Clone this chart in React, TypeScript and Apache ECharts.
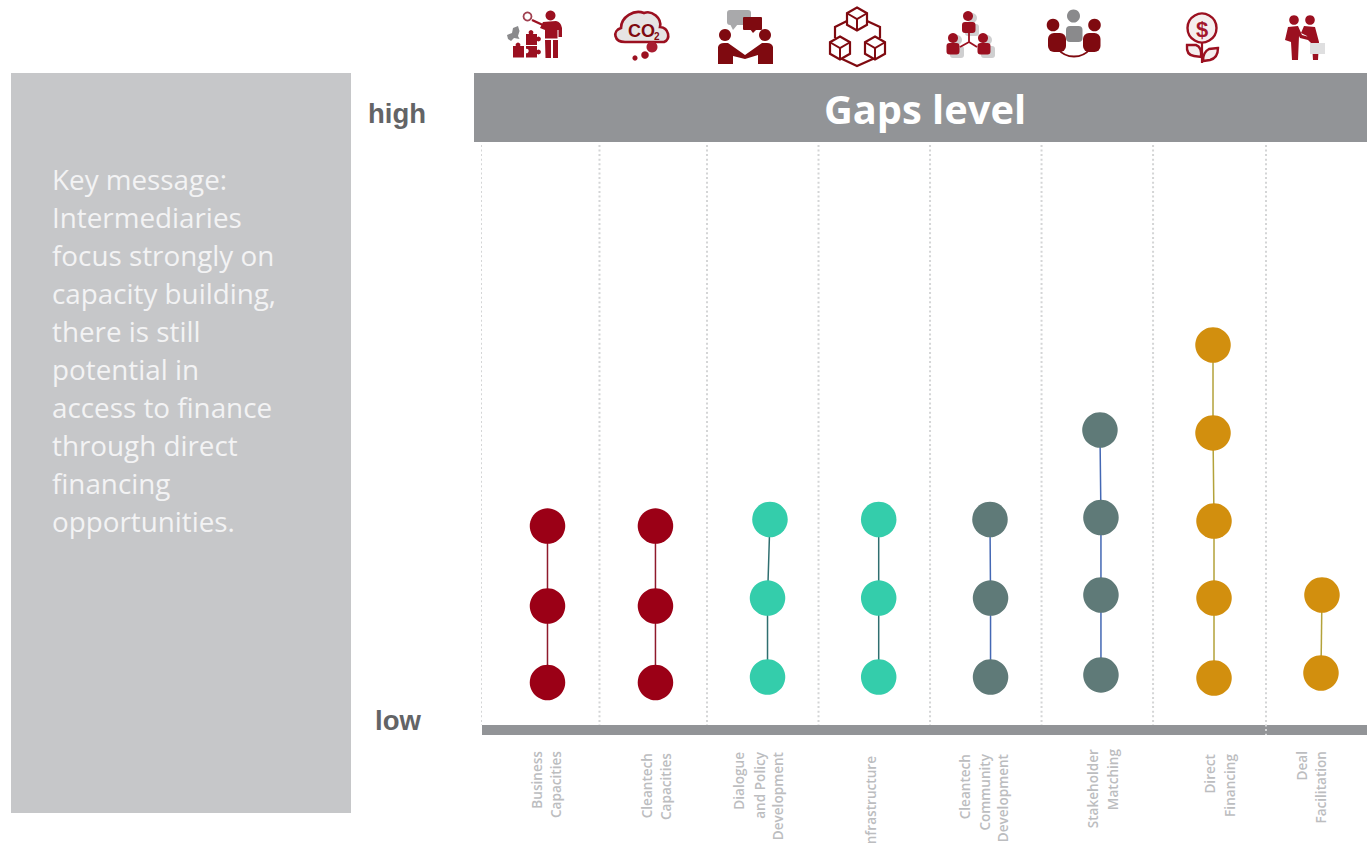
import React, { useEffect, useRef } from "react";
import * as echarts from "echarts";

// Column positions run 0..8 along the x axis, gap levels 0..10 along the y axis.
const businessX = [0.592, 0.592, 0.592];
const businessY = [3.413, 2.041, 0.729];
const cleantechX = [1.568, 1.568, 1.568];
const cleantechY = [3.413, 2.041, 0.729];
const dialogueX = [2.603, 2.581, 2.581];
const dialogueY = [3.525, 2.178, 0.823];
const infrastructureX = [3.586, 3.586, 3.586];
const infrastructureY = [3.525, 2.178, 0.823];
const communityX = [4.592, 4.597, 4.597];
const communityY = [3.525, 2.178, 0.823];
const stakeholderX = [5.586, 5.595, 5.595, 5.595];
const stakeholderY = [5.06, 3.559, 2.23, 0.858];
const directX = [6.608, 6.608, 6.617, 6.617, 6.617];
const directY = [6.518, 5.009, 3.499, 2.178, 0.806];
const dealX = [7.593, 7.584];
const dealY = [2.23, 0.892];
const separators = [-0.009, 1.062, 2.034, 3.042, 4.05, 5.058, 6.066, 7.087];

const categoryLines = [
  ["Business", "Capacities"],
  ["Cleantech", "Capacities"],
  ["Dialogue", "and Policy", "Development"],
  ["Infrastructure"],
  ["Cleantech", "Community", "Development"],
  ["Stakeholder", "Matching"],
  ["Direct", "Financing"],
  ["Deal", "Facilitation"],
];
const messageLines = [
  "Key message:",
  "Intermediaries",
  "focus strongly on",
  "capacity building,",
  "there is still",
  "potential in",
  "access to finance",
  "through direct",
  "financing",
  "opportunities.",
];

// Where each rotated category line sits under the axis.
const categoryLayout = [
  { top: 751, xs: [536, 555.5] },
  { top: 753, xs: [646, 665] },
  { top: 752, xs: [738, 759, 777] },
  { top: 756, xs: [870] },
  { top: 754, xs: [964, 984, 1002] },
  { top: 749, xs: [1092, 1112] },
  { top: 754, xs: [1209, 1229] },
  { top: 751, xs: [1301, 1320] },
];

const RED = "#9b0016";
const TEAL = "#34cdab";
const SLATE = "#5f7a78";
const AMBER = "#d28f0e";
const ICON_RED = "#9b1020";
const ICON_DARK = "#7f0a10";

const columns = [
  { name: "Business Capacities", xs: businessX, ys: businessY, dot: RED, link: "#8f1a2c" },
  { name: "Cleantech Capacities", xs: cleantechX, ys: cleantechY, dot: RED, link: "#8f1a2c" },
  { name: "Dialogue and Policy Development", xs: dialogueX, ys: dialogueY, dot: TEAL, link: "#2f6f70" },
  { name: "Infrastructure", xs: infrastructureX, ys: infrastructureY, dot: TEAL, link: "#2f6f70" },
  { name: "Cleantech Community Development", xs: communityX, ys: communityY, dot: SLATE, link: "#4468b4" },
  { name: "Stakeholder Matching", xs: stakeholderX, ys: stakeholderY, dot: SLATE, link: "#4468b4" },
  { name: "Direct Financing", xs: directX, ys: directY, dot: AMBER, link: "#b3a23a" },
  { name: "Deal Facilitation", xs: dealX, ys: dealY, dot: AMBER, link: "#b3a23a" },
];

// Outlines of the icon figures that the primitive graphic types cannot express.
const shapes: Record<string, string> = {
  coachBody:
    "M543 22 L556 21 Q561 22 562 28 L562 37 L558.5 37 L558.5 30 L557.5 30 L557.5 38.5 L545 38.5 L545 30 L540 28 Z",
  coachLegs: "M545 40 L551 40 L551 58 L545.5 58 Z M553 40 L558 40 L558 58 L553 58 Z",
  scrap: "M507 35 L512 33 L513 28 L518 26 L519.5 31 L518 36 L519.5 39 L514 38 L511 41 L508 39 Z",
  cloud:
    "M625 42 C614 42 612 31 621 28 C621 17 634 9 644 13 C652 10 662 18 660 27 C669 28 671 39 664 42 Z",
  shakeLeft: "M718 64 L718 47 Q719 43 724 43 L728 43 L745 55 L745 59 L733 56 L733 64 Z",
  shakeRight: "M773 64 L773 47 Q772 43 767 43 L762 43 L745 55 L745 59 L758 55 L758 64 Z",
  leafLeft: "M1187 45 L1196 45 Q1202 47 1201 57 L1194 56 Q1186 55 1187 45 Z",
  leafRight: "M1218 48 L1209 49 Q1203 52 1203 61 L1210 60 Q1218 58 1218 48 Z",
  dealLeft:
    "M1288 27 L1298 26 L1302 35 L1309 37 L1308 40 L1300 38 L1299 36 L1298 60 L1292 60 L1291 42 L1285 40 Z",
  dealRight:
    "M1304 26 L1315 27 L1319 42 L1318 60 L1313 60 L1312 44 L1308 40 L1307 36 L1301 33 Z",
};
Object.keys(shapes).forEach((key) =>
  echarts.graphic.registerShape(key, echarts.graphic.extendPath(shapes[key] as any, {}) as any)
);

const fillShape = (type: string, fill: string, extra: any = {}) => ({ type, x: 0, y: 0, style: { fill, ...extra } });
const dot = (cx: number, cy: number, r: number, fill: string) => ({ type: "circle", shape: { cx, cy, r }, style: { fill } });
const box = (x: number, y: number, width: number, height: number, fill: string, r = 0) => ({
  type: "rect",
  shape: { x, y, width, height, r },
  style: { fill },
});
const stroke = (points: number[][], color: string, lineWidth: number) => ({
  type: "polyline",
  shape: { points },
  style: { stroke: color, fill: "none", lineWidth },
});

// An isometric cube outline centred on (cx, cy).
const cube = (cx: number, cy: number, r: number) => {
  const h = r * 0.87;
  return [
    {
      type: "polygon",
      shape: {
        points: [
          [cx, cy - r],
          [cx + h, cy - r / 2],
          [cx + h, cy + r / 2],
          [cx, cy + r],
          [cx - h, cy + r / 2],
          [cx - h, cy - r / 2],
        ],
      },
      style: { fill: "#fff", stroke: ICON_DARK, lineWidth: 2.2 },
    },
    stroke([[cx - h, cy - r / 2], [cx, cy], [cx + h, cy - r / 2]], ICON_DARK, 2),
    stroke([[cx, cy], [cx, cy + r]], ICON_DARK, 2),
  ];
};

const iconElements: any[] = [
  // Presenter with puzzle pieces
  dot(550.5, 15.5, 5, ICON_RED),
  fillShape("coachBody", ICON_RED),
  fillShape("coachLegs", ICON_RED),
  stroke([[532, 20], [545, 26]], ICON_RED, 2.4),
  { type: "circle", shape: { cx: 527.5, cy: 16.5, r: 4 }, style: { fill: "#fff", stroke: "#a04050", lineWidth: 1.8 } },
  fillShape("scrap", "#8a8a8c"),
  box(526, 34, 11, 11, ICON_RED),
  dot(531, 32.5, 2.4, ICON_RED),
  dot(538.5, 39, 2.4, ICON_RED),
  box(513, 46, 11, 11.5, ICON_RED),
  dot(518, 45, 2.4, ICON_RED),
  box(526, 46, 11, 11.5, ICON_RED),
  dot(538.5, 52, 2.4, ICON_RED),
  dot(526.5, 51, 2.2, "#fff"),
  // CO2 cloud
  fillShape("cloud", "#e6e4e4", { stroke: ICON_RED, lineWidth: 2.6 }),
  dot(652, 47, 5.5, "#a81c30"),
  dot(645, 55, 3.8, ICON_RED),
  dot(635, 58, 2.6, ICON_RED),
  { type: "text", x: 628, y: 31, style: { text: "CO", font: "bold 18px 'Liberation Sans'", fill: "#7f0a10", verticalAlign: "middle" } },
  { type: "text", x: 654, y: 36, style: { text: "2", font: "bold 10px 'Liberation Sans'", fill: "#7f0a10", verticalAlign: "middle" } },
  // Dialogue between two people
  box(727, 10, 24, 15, "#a9a9ab", 3),
  { type: "polygon", shape: { points: [[730, 24], [738, 24], [733, 30]] }, style: { fill: "#a9a9ab" } },
  box(743, 17, 19, 13, ICON_DARK, 1),
  { type: "polygon", shape: { points: [[750, 29], [757, 29], [753, 33]] }, style: { fill: ICON_DARK } },
  dot(725, 35, 6, ICON_DARK),
  dot(765, 35, 6, ICON_DARK),
  fillShape("shakeLeft", ICON_DARK),
  fillShape("shakeRight", ICON_DARK),
  // Network of cubes
  stroke([[847, 21], [835, 27], [835, 38]], ICON_DARK, 2.2),
  stroke([[867, 21], [880, 27], [880, 38]], ICON_DARK, 2.2),
  stroke([[840, 58], [857, 66], [875, 58]], ICON_DARK, 2.2),
  ...cube(857, 19, 11.5),
  ...cube(840, 48, 11.5),
  ...cube(875, 48, 11.5),
  // Community of three
  dot(972, 18, 5, "#cfcfd0"),
  box(965, 24, 14, 12, "#cfcfd0", 3),
  dot(957, 40, 5, "#cfcfd0"),
  box(950, 46, 14, 12, "#cfcfd0", 3),
  dot(987, 40, 5, "#cfcfd0"),
  box(981, 46, 14, 12, "#cfcfd0", 3),
  stroke([[969, 32], [969, 42], [960, 47]], ICON_RED, 1.8),
  stroke([[969, 42], [977, 47]], ICON_RED, 1.8),
  dot(968, 16, 5, ICON_RED),
  box(962, 22, 13.5, 11, ICON_RED, 3),
  dot(953, 38, 5, ICON_RED),
  box(946.5, 43, 13, 11.5, ICON_RED, 3),
  dot(983, 38, 5, ICON_RED),
  box(977.5, 43, 13, 11.5, ICON_RED, 3),
  // Matching around a table
  {
    type: "bezierCurve",
    shape: { x1: 1058, y1: 49, x2: 1090, y2: 49, cpx1: 1066, cpy1: 59, cpx2: 1082, cpy2: 59 },
    style: { stroke: ICON_DARK, fill: "none", lineWidth: 2 },
  },
  dot(1053, 25, 6.3, ICON_DARK),
  dot(1094.5, 25, 6.3, ICON_DARK),
  box(1048, 33, 18, 19, ICON_DARK, 6),
  box(1083, 33, 17.5, 19, ICON_DARK, 6),
  dot(1073.5, 16, 6.5, "#8a8a8c"),
  box(1066, 26, 16.5, 16, "#8a8a8c", 4),
  // Money plant
  stroke([[1202, 43], [1202, 63]], ICON_RED, 2.2),
  { type: "circle", shape: { cx: 1202, cy: 28, r: 14.5 }, style: { fill: "#f5eeee", stroke: ICON_RED, lineWidth: 2.4 } },
  { type: "text", x: 1202, y: 29, style: { text: "$", font: "bold 22px 'Liberation Sans'", fill: "#a3162c", align: "center", verticalAlign: "middle" } },
  fillShape("leafLeft", "#f5eeee", { stroke: ICON_RED, lineWidth: 2.4 }),
  fillShape("leafRight", "#f5eeee", { stroke: ICON_RED, lineWidth: 2.4 }),
  // Handshake with a briefcase
  dot(1294, 20, 4.8, ICON_RED),
  dot(1310, 20, 4.8, ICON_RED),
  fillShape("dealLeft", ICON_RED),
  fillShape("dealRight", ICON_RED),
  box(1310, 43, 15, 11, "#dfdfe0"),
];

const buildOption = () => {
  const categoryTexts = categoryLines.flatMap((lines, i) =>
    lines.map((line, j) => ({
      type: "text",
      x: categoryLayout[i].xs[j],
      y: categoryLayout[i].top,
      rotation: Math.PI / 2,
      style: {
        text: line,
        font: "600 13.6px 'Open Sans'",
        fill: "#bcbdbf",
        align: "right",
        verticalAlign: "middle",
      },
    }))
  );
  const messageTexts = messageLines.map((line, i) => ({
    type: "text",
    x: 52,
    y: 178.5 + i * 38,
    style: { text: line, font: "27.8px 'Open Sans'", fill: "#f3f3f4", verticalAlign: "middle" },
  }));

  return {
    animation: false,
    backgroundColor: "#ffffff",
    grid: { left: 482, top: 142, width: 885, height: 583 },
    xAxis: {
      type: "value",
      min: 0,
      max: 8,
      offset: 5,
      axisLine: { show: true, onZero: false, lineStyle: { color: "#929497", width: 10, cap: "butt" } },
      axisTick: { show: false },
      axisLabel: { show: false },
      splitLine: { show: false },
    },
    yAxis: {
      type: "value",
      min: 0,
      max: 10,
      axisLine: { show: false },
      axisTick: { show: false },
      axisLabel: { show: false },
      splitLine: { show: false },
    },
    series: [
      ...separators.map((x, i) => ({
        name: `separator ${i + 1}`,
        type: "line",
        silent: true,
        clip: false,
        symbol: "none",
        z: 1,
        lineStyle: { color: "#d4d5d6", width: 2, type: [2, 2.6] },
        data: [
          [x, 9.95],
          [x, i === 7 ? -0.17 : 0],
        ],
      })),
      ...columns.map((c) => ({
        name: c.name,
        type: "line",
        clip: false,
        symbol: "circle",
        symbolSize: 35.5,
        z: 3,
        itemStyle: { color: c.dot },
        lineStyle: { color: c.link, width: 1.5 },
        data: c.xs.map((x, i) => [x, c.ys[i]]),
      })),
    ],
    graphic: [
      {
        type: "group",
        silent: true,
        children: [
          box(11, 73, 340, 740, "#c6c7c9"),
          box(474, 73, 893, 69, "#929497"),
          {
            type: "text",
            x: 925,
            y: 108.5,
            style: { text: "Gaps level", font: "bold 39.8px 'Open Sans'", fill: "#ffffff", align: "center", verticalAlign: "middle" },
          },
          {
            type: "text",
            x: 368,
            y: 113,
            style: { text: "high", font: "bold 27.5px 'Liberation Sans'", fill: "#636466", verticalAlign: "middle" },
          },
          {
            type: "text",
            x: 375,
            y: 720,
            style: { text: "low", font: "bold 27.5px 'Liberation Sans'", fill: "#636466", verticalAlign: "middle" },
          },
          ...messageTexts,
          ...categoryTexts,
          ...iconElements,
        ],
      },
    ],
  };
};

export default function App() {
  const ref = useRef<HTMLDivElement>(null);
  useEffect(() => {
    document.body.style.margin = "0";
    const chart = echarts.init(ref.current!, undefined, { renderer: "svg" });
    chart.setOption(buildOption() as any);
    return () => chart.dispose();
  }, []);
  return <div ref={ref} style={{ width: 1367, height: 843, overflow: "hidden" }} />;
}
